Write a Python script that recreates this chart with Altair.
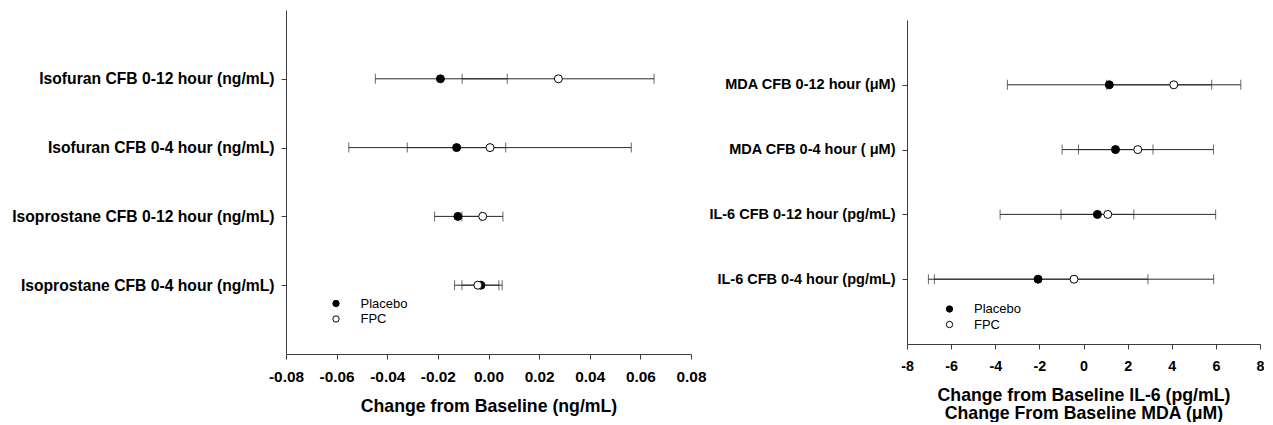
import altair as alt
import pandas as pd

FONT = "Liberation Sans"
AXIS_COLOR = "#3c3c3c"
LINE_COLOR = "#2a2a2a"

# ---------------- left panel data ----------------
left_labels = [
    "Isofuran CFB 0-12 hour (ng/mL)",
    "Isofuran CFB 0-4 hour (ng/mL)",
    "Isoprostane CFB 0-12 hour (ng/mL)",
    "Isoprostane CFB 0-4 hour (ng/mL)",
]
left_placebo_mean = [-0.0190, -0.0126, -0.0121, -0.0030]
left_placebo_lo = [-0.0447, -0.0321, -0.0213, -0.0105]
left_placebo_hi = [0.0074, 0.0068, -0.0029, 0.0041]
left_fpc_mean = [0.0276, 0.0006, -0.0023, -0.0042]
left_fpc_lo = [-0.0104, -0.0552, -0.0105, -0.0134]
left_fpc_hi = [0.0654, 0.0564, 0.0057, 0.0054]
left_ticks = [-0.08, -0.06, -0.04, -0.02, 0.0, 0.02, 0.04, 0.06, 0.08]

# ---------------- right panel data ----------------
right_labels = [
    "MDA CFB 0-12 hour (\u03bcM)",
    "MDA CFB 0-4 hour ( \u03bcM)",
    "IL-6 CFB 0-12 hour (pg/mL)",
    "IL-6 CFB 0-4 hour (pg/mL)",
]
right_placebo_mean = [1.17, 1.45, 0.63, -2.06]
right_placebo_lo = [-3.45, -0.23, -1.02, -7.03]
right_placebo_hi = [5.81, 3.15, 2.28, 2.92]
right_fpc_mean = [4.09, 2.46, 1.10, -0.43]
right_fpc_lo = [1.05, -0.97, -3.78, -6.76]
right_fpc_hi = [7.13, 5.89, 5.99, 5.90]
right_ticks = [-8, -6, -4, -2, 0, 2, 4, 6, 8]

groups = ["Placebo", "FPC"]


def make_df(labels, pm, pl, ph, fm, fl, fh):
    rows = []
    for g, m, lo, hi in ((groups[0], pm, pl, ph), (groups[1], fm, fl, fh)):
        for lab, a, b, c in zip(labels, m, lo, hi):
            rows.append({"label": lab, "group": g, "mean": a, "lo": b, "hi": c})
    return pd.DataFrame(rows)


def panel(df, labels, ticks, fmt, xtitle, width, height, label_fs, tick_fs,
          legend_x, legend_y, yrange=None, xoffset=0):
    xscale = alt.Scale(domain=[ticks[0], ticks[-1]], nice=False, zero=False)
    xaxis = alt.Axis(
        values=ticks, format=fmt, grid=False, domainColor=AXIS_COLOR,
        tickColor=AXIS_COLOR, tickSize=5, labelFont=FONT, labelFontSize=tick_fs,
        labelFontWeight="bold", labelColor="black", labelPadding=10,
        labelExpr="replace(datum.label, '\u2212', '-')",
        titleFont=FONT, titleFontSize=17.7, titleFontWeight="bold",
        titleColor="black", titlePadding=13, titleLineHeight=18,
        labelFlush=False, labelOverlap=False, offset=xoffset,
    )
    yaxis = alt.Axis(
        title=None, grid=False, domainColor=AXIS_COLOR, tickColor=AXIS_COLOR,
        tickSize=5, labelFont=FONT, labelFontSize=label_fs, labelLimit=500,
        labelFontWeight="bold", labelColor="black", labelPadding=7,
    )
    yscale_args = dict(type="point", padding=1)
    if yrange is not None:
        yscale_args["range"] = yrange
    yenc = alt.Y("label:N", sort=labels, scale=alt.Scale(**yscale_args), axis=yaxis)
    base = alt.Chart(df)
    rule = base.mark_rule(color=LINE_COLOR, strokeWidth=1).encode(
        x=alt.X("lo:Q", scale=xscale, axis=xaxis, title=xtitle),
        x2="hi:Q",
        y=yenc,
    )
    tick_lo = base.mark_tick(color=LINE_COLOR, thickness=1, size=10).encode(
        x=alt.X("lo:Q", scale=xscale), y=yenc)
    tick_hi = base.mark_tick(color=LINE_COLOR, thickness=1, size=10).encode(
        x=alt.X("hi:Q", scale=xscale), y=yenc)
    pts = base.mark_point(shape="circle", size=64, filled=True, stroke="black",
                          strokeWidth=1, opacity=1).encode(
        x=alt.X("mean:Q", scale=xscale),
        y=yenc,
        fill=alt.Fill(
            "group:N",
            scale=alt.Scale(domain=groups, range=["black", "white"]),
            legend=alt.Legend(
                title=None, orient="none", legendX=legend_x, legendY=legend_y,
                symbolType="circle", symbolSize=40, symbolStrokeColor="black",
                symbolStrokeWidth=1, labelFont=FONT, labelFontSize=13,
                labelColor="black", labelOffset=18, rowPadding=1.5, padding=0,
            ),
        ),
        order=alt.Order("ord:Q"),
    ).transform_calculate(ord="datum.group == 'Placebo' ? 0 : 1")
    return alt.layer(rule, tick_lo, tick_hi, pts).properties(width=width, height=height)


left_df = make_df(left_labels, left_placebo_mean, left_placebo_lo, left_placebo_hi,
                  left_fpc_mean, left_fpc_lo, left_fpc_hi)
right_df = make_df(right_labels, right_placebo_mean, right_placebo_lo, right_placebo_hi,
                   right_fpc_mean, right_fpc_lo, right_fpc_hi)

left = panel(left_df, left_labels, left_ticks, ".2f", "Change from Baseline (ng/mL)",
             405, 344, 15.7, 15.4, 43.5, 287)
right = panel(right_df, right_labels, right_ticks, "d",
              ["Change from Baseline IL-6 (pg/mL)", "Change From Baseline MDA (\u03bcM)"],
              353, 344, 14.5, 14.3, 36, 292.5, yrange=[10, 334], xoffset=-10)

chart = alt.hconcat(left, right, spacing=2).resolve_legend(fill="independent").resolve_scale(
    fill="independent").properties(
    padding={"left": 3, "top": 2, "right": 0, "bottom": 0},
    background="white",
).configure_view(strokeWidth=0, stroke=None)

chart.save("out.html", embed_options={"renderer": "svg", "actions": False})
